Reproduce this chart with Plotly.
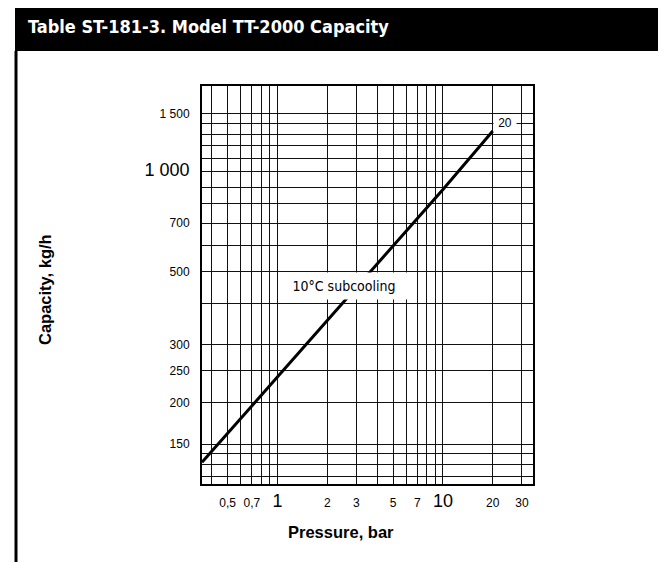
import math
import plotly.graph_objects as go

# ---- data ----
pressure_bar = [0.35, 1, 10, 20]
capacity_kgh = [132, 240, 885, 1330]
curve_label = "20"
curve_note = "10°C subcooling"

x_grid = [0.4, 0.5, 0.6, 0.7, 0.8, 0.9, 1, 2, 3, 4, 5, 6, 7, 8, 9, 10, 20, 30]
x_labels = {0.5: "0,5", 0.7: "0,7", 1: "1", 2: "2", 3: "3", 5: "5", 7: "7",
            10: "10", 20: "20", 30: "30"}
x_big = [1, 10]

y_grid = [120, 130, 140, 150, 200, 250, 300, 400, 500, 600, 700, 800, 900,
          1000, 1100, 1200, 1300, 1400, 1500]
y_labels = {150: "150", 200: "200", 250: "250", 300: "300", 500: "500",
            700: "700", 1000: "1 000", 1500: "1 500"}
y_big = [1000]

x_range = [0.35, 35]
y_range = [113.5, 1820]

title_text = "Table ST-181-3. Model TT-2000 Capacity"
x_title = "Pressure, bar"
y_title = "Capacity, kg/h"

# ---- layout helpers (page pixel coords, page body has 8px margin) ----
OFF = 8
W, H = 666 - OFF, 562 - OFF
L, R, T, B = 202 - OFF, 533 - OFF, 86 - OFF, 484 - OFF

COND = "DejaVu Sans Condensed, Liberation Sans Narrow, Liberation Sans, Arial, sans-serif"
SANS = "Liberation Sans, Arial, sans-serif"


def px(p):
    return (p - OFF - L) / (R - L)


def py(q):
    return (B - (q - OFF)) / (B - T)


def lab(d, v, big):
    t = d.get(v, "")
    if t and v in big:
        return "<span style='font-size:18px'>" + t + "</span>"
    return t


fig = go.Figure()
fig.add_trace(go.Scatter(x=pressure_bar, y=capacity_kgh, mode="lines",
                         line=dict(color="black", width=3), showlegend=False,
                         hoverinfo="skip"))

axis_common = dict(showgrid=True, gridcolor="#111111", gridwidth=1,
                   showline=True, linecolor="black", linewidth=2, mirror=True,
                   ticks="", zeroline=False,
                   tickfont=dict(family=SANS, size=12, color="black"))

fig.update_xaxes(type="log", range=[math.log10(x_range[0]), math.log10(x_range[1])],
                 tickmode="array", tickvals=x_grid,
                 ticktext=[lab(x_labels, v, x_big) for v in x_grid],
                 ticklabelstandoff=7, **axis_common)
fig.update_yaxes(type="log", range=[math.log10(y_range[0]), math.log10(y_range[1])],
                 tickmode="array", tickvals=y_grid,
                 ticktext=[lab(y_labels, v, y_big) for v in y_grid],
                 ticklabelstandoff=8, **axis_common)

shapes = [
    dict(type="rect", xref="paper", yref="paper", x0=px(15), x1=px(664),
         y0=py(51), y1=py(1.5), fillcolor="black", line=dict(width=0), layer="above"),
    dict(type="line", xref="paper", yref="paper", x0=px(16), x1=px(16),
         y0=py(51), y1=py(562), line=dict(color="black", width=3)),
    dict(type="line", xref="paper", yref="paper", x0=px(663), x1=px(663),
         y0=py(51), y1=py(562), line=dict(color="black", width=3)),
]

annotations = [
    dict(text="<b>" + title_text + "</b>", xref="paper", yref="paper",
         x=px(26), y=py(27), xanchor="left", yanchor="middle", showarrow=False,
         font=dict(family=COND, size=18, color="white")),
    dict(text="<b>" + y_title + "</b>", xref="paper", yref="paper",
         x=px(45), y=py(290), xanchor="center", yanchor="middle", textangle=-90,
         showarrow=False, font=dict(family=SANS, size=16.5, color="black")),
    dict(text="<b>" + x_title + "</b>", xref="paper", yref="paper",
         x=px(341), y=py(532), xanchor="center", yanchor="middle",
         showarrow=False, font=dict(family=SANS, size=16.5, color="black")),
    dict(text=curve_note, x=math.log10(2.51), y=math.log10(452), xref="x", yref="y",
         showarrow=False, bgcolor="white", width=126, height=24, borderpad=1,
         font=dict(family=COND, size=14, color="black")),
    dict(text=curve_label, x=math.log10(pressure_bar[-1]), y=math.log10(capacity_kgh[-1]),
         xref="x", yref="y", showarrow=False, bgcolor="white", xshift=12, yshift=8,
         width=20, height=14, borderpad=1,
         font=dict(family=SANS, size=12, color="black")),
]

fig.update_layout(width=W, height=H, margin=dict(l=L, r=W - R, t=T, b=H - B),
                  paper_bgcolor="white", plot_bgcolor="white",
                  shapes=shapes, annotations=annotations, showlegend=False)

fig.write_html("out.html")
